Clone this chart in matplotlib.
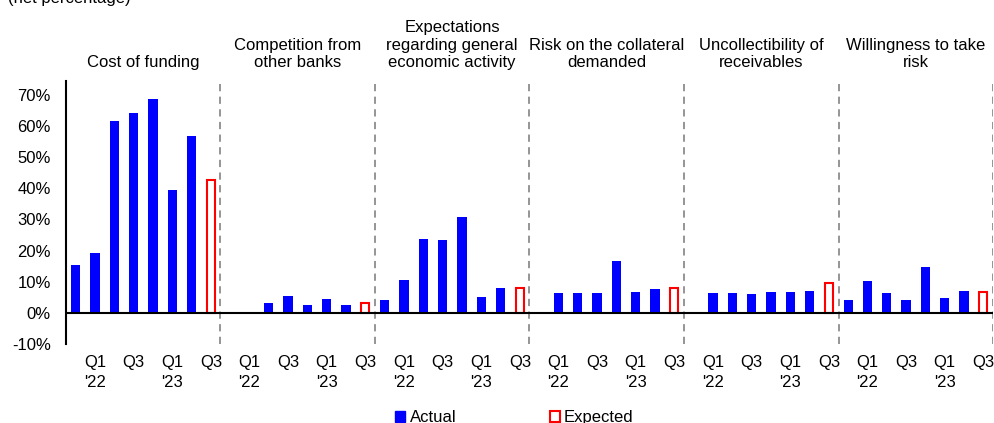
import numpy as np
import matplotlib
matplotlib.use('Agg')
from matplotlib import pyplot as plt
from matplotlib.patches import Patch
from matplotlib.transforms import blended_transform_factory

plt.rcParams['font.family'] = ['Liberation Sans', 'DejaVu Sans']
plt.rcParams['font.size'] = 12

#--------------------------------------------------------60
# Data: net percentage, Q4'21 .. Q2'23 actual, Q3'23 expected

factors = ['Cost of funding',
           'Competition from\nother banks',
           'Expectations\nregarding general\neconomic activity',
           'Risk on the collateral\ndemanded',
           'Uncollectibility of\nreceivables',
           'Willingness to take\nrisk']

cost_funding   = [15.5, 19.3, 61.5, 64.0, 68.5, 39.4, 56.8]
competition    = [np.nan, np.nan, 3.3, 5.6, 2.6, 4.4, 2.7]
expectations   = [4.3, 10.5, 23.6, 23.3, 30.8, 5.3, 8.2]
collateral     = [np.nan, 6.3, 6.3, 6.3, 16.8, 6.9, 7.8]
uncollectible  = [np.nan, 6.3, 6.3, 6.2, 6.8, 6.8, 7.1]
willingness    = [4.3, 10.2, 6.3, 4.3, 14.9, 4.9, 7.1]

expected = [42.5, 3.3, 8.2, 7.9, 9.5, 6.9]

quarter_labels = ['', "Q1\n'22", '', 'Q3', '', "Q1\n'23", '', 'Q3']

actual = [cost_funding, competition, expectations,
          collateral, uncollectible, willingness]

#--------------------------------------------------------60

n_slots = len(quarter_labels)
blue = '#0000FF'
red = '#FF0000'

fig = plt.figure(figsize=(9.95, 4.23), dpi=100)
ax = fig.add_axes([0.0663, 0.186, 0.9317, 0.6235])

for g in range(len(factors)):
    x0 = g*n_slots
    xa = x0 + np.arange(len(actual[g]))
    ax.bar(xa, actual[g], width=0.48, color=blue, zorder=2)
    ax.bar(x0 + n_slots - 1, expected[g], width=0.40, facecolor='white',
           edgecolor=red, linewidth=1.5, zorder=2)
    # group separator
    ax.axvline(x0 + n_slots - 0.5, color='#8c8c8c', lw=1.3,
               ls=(0, (4, 3)), zorder=1)

# factor names above each block
trans = blended_transform_factory(ax.transData, ax.transAxes)
for g, name in enumerate(factors):
    ax.text(g*n_slots + (n_slots - 1)/2., 1.051, name, transform=trans,
            ha='center', va='baseline', fontsize=12, linespacing=1.2)

ax.axhline(0, color='black', lw=1.5, zorder=3)

ax.set_xlim(-0.5, len(factors)*n_slots - 0.5)
ax.set_ylim(-10, 74.5)
ax.set_yticks(np.arange(-10, 71, 10))
ax.set_yticklabels(['%d%%' % v for v in np.arange(-10, 71, 10)])

ax.set_xticks(np.arange(len(factors)*n_slots))
ax.set_xticklabels(quarter_labels*len(factors))
for lab in ax.get_xticklabels():
    lab.set_linespacing(1.4)
ax.tick_params(axis='both', length=0, labelsize=12)
ax.tick_params(axis='x', pad=8)
ax.tick_params(axis='y', pad=11)

for side in ['top', 'right', 'bottom']:
    ax.spines[side].set_visible(False)
ax.spines['left'].set_linewidth(1.5)

fig.text(0.008, 1 - 3/423., '(net percentage)', fontsize=12,
         ha='left', va='baseline')

handles = [Patch(facecolor=blue, edgecolor=blue),
           Patch(facecolor='white', edgecolor=red, linewidth=1.5)]
fig.legend(handles, ['Actual', 'Expected'], loc='center',
           bbox_to_anchor=(0.517, 0.012), ncol=2, frameon=False,
           handlelength=0.6, handleheight=0.6, handletextpad=0.25,
           columnspacing=5.6, fontsize=12, borderpad=0)

fig.savefig('out.png', dpi=100)
